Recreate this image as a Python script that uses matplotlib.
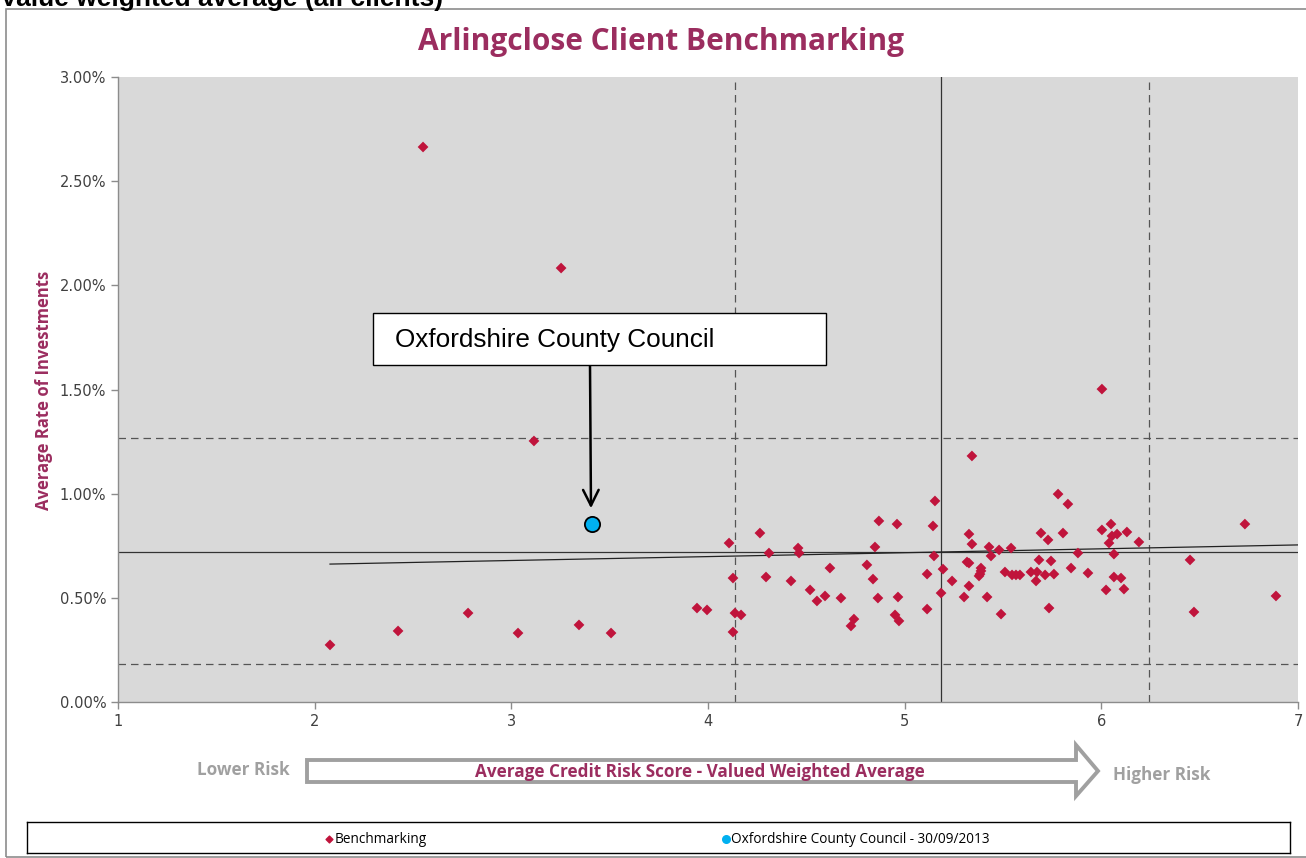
import matplotlib
matplotlib.use("Agg")
import matplotlib.pyplot as plt
from matplotlib.patches import Rectangle, Polygon
from matplotlib.ticker import FuncFormatter
import numpy as np

# ---------------- data ----------------
bench_x = [2.551, 3.253, 3.115, 2.078, 2.424, 2.780, 3.034, 3.344, 3.507, 3.944,
           3.995, 4.107, 4.127, 4.137, 4.168, 4.127, 4.264, 4.295, 4.310, 4.422,
           4.458, 4.463, 4.519, 4.554, 4.595, 4.620, 4.676, 4.727, 4.742, 4.808,
           4.839, 4.849, 4.864, 4.869, 4.951, 4.961, 4.966, 4.971, 5.114, 5.114,
           5.144, 5.149, 5.154, 5.185, 5.195, 5.241, 5.302, 5.317, 5.327, 5.327,
           5.327, 5.342, 5.342, 5.378, 5.383, 5.388, 5.388, 5.419, 5.429, 5.439,
           5.480, 5.490, 5.510, 5.541, 5.546, 5.566, 5.586, 5.642, 5.668, 5.673,
           5.683, 5.693, 5.714, 5.729, 5.734, 5.744, 5.759, 5.780, 5.805, 5.830,
           5.846, 5.881, 5.932, 6.003, 6.003, 6.024, 6.039, 6.049, 6.054, 6.064,
           6.064, 6.080, 6.100, 6.115, 6.130, 6.191, 6.451, 6.471, 6.730, 6.888]
bench_y = [2.664, 2.083, 1.253, 0.274, 0.341, 0.427, 0.331, 0.370, 0.331, 0.451,
           0.442, 0.763, 0.595, 0.427, 0.418, 0.336, 0.811, 0.600, 0.715, 0.581,
           0.739, 0.715, 0.538, 0.485, 0.509, 0.643, 0.499, 0.365, 0.398, 0.658,
           0.590, 0.744, 0.499, 0.869, 0.418, 0.854, 0.504, 0.389, 0.614, 0.446,
           0.845, 0.701, 0.965, 0.523, 0.638, 0.581, 0.504, 0.672, 0.667, 0.806,
           0.557, 1.181, 0.758, 0.605, 0.614, 0.629, 0.643, 0.504, 0.744, 0.701,
           0.730, 0.422, 0.624, 0.739, 0.610, 0.610, 0.610, 0.624, 0.581, 0.624,
           0.682, 0.811, 0.610, 0.778, 0.451, 0.677, 0.614, 0.998, 0.811, 0.950,
           0.643, 0.715, 0.619, 1.502, 0.826, 0.538, 0.763, 0.854, 0.797, 0.710,
           0.600, 0.806, 0.595, 0.542, 0.816, 0.768, 0.682, 0.432, 0.854, 0.509]

oxford_x = [3.41]
oxford_y = [0.854]

mean_x = 5.185
mean_y = 0.720
band_x = [4.137, 6.242]
band_y = [0.182, 1.267]

trend_x = [2.078, 7.0]
trend_y = [0.662, 0.754]

x_ticks = [1, 2, 3, 4, 5, 6, 7]
y_ticks = [0.0, 0.5, 1.0, 1.5, 2.0, 2.5, 3.0]

title = "Arlingclose Client Benchmarking"
heading = "Value weighted average (all clients)"
y_label = "Average Rate of Investments"
x_label = "Average Credit Risk Score - Valued Weighted Average"
legend_labels = ["Benchmarking", "Oxfordshire County Council - 30/09/2013"]
annot_text = "Oxfordshire County Council"

PURPLE = "#9B2D5F"
RED = "#C0143C"
BLUE = "#00B0F0"
GREY = "#A0A0A0"

W, H = 1306, 858
fig = plt.figure(figsize=(W / 100, H / 100), dpi=100)
fig.patch.set_facecolor("white")

def fx(px):
    return px / W

def fy(py):
    return 1 - py / H

# outer frame
fig.add_artist(Rectangle((fx(6), fy(857)), fx(1310) - fx(6), fy(9) - fy(857),
                         transform=fig.transFigure, fill=False,
                         edgecolor="#8c8c8c", lw=1.2))
fig.text(fx(0), fy(6), heading, fontsize=19, fontweight="bold",
         family="Liberation Sans", ha="left", va="baseline", color="black")

ax = fig.add_axes([fx(118), fy(702), fx(1298) - fx(118), fy(77) - fy(702)])
ax.set_facecolor("#D9D9D9")
ax.set_xlim(1, 7)
ax.set_ylim(0, 3.0)
ax.set_xticks(x_ticks)
ax.set_yticks(y_ticks)
ax.yaxis.set_major_formatter(FuncFormatter(lambda v, p: f"{v:.2f}%"))
for s in ["top", "right"]:
    ax.spines[s].set_visible(False)
for s in ["left", "bottom"]:
    ax.spines[s].set_color("#8c8c8c")
    ax.spines[s].set_linewidth(1.0)
ax.tick_params(axis="both", colors="#8c8c8c", labelcolor="#404040",
               labelsize=10.5, length=5, width=1)
ax.tick_params(axis="x", pad=4)
for lbl in ax.get_xticklabels() + ax.get_yticklabels():
    lbl.set_family("DejaVu Sans")

# reference lines
ax.axvline(mean_x, color="#333333", lw=0.9, zorder=1)
ax.axhline(mean_y, color="#333333", lw=0.9, zorder=1)
for bx in band_x:
    ax.axvline(bx, color="#555555", lw=0.9, ls=(0, (6, 4)), zorder=1)
for by in band_y:
    ax.axhline(by, color="#555555", lw=0.9, ls=(0, (6, 4)), zorder=1)
ax.plot(trend_x, trend_y, color="#222222", lw=0.9, zorder=1, clip_on=True)

ax.scatter(bench_x, bench_y, marker="D", s=30, color=RED, edgecolors="none",
           zorder=3)
ax.scatter(oxford_x, oxford_y, marker="o", s=120, color=BLUE,
           edgecolors="black", linewidths=1.3, zorder=4)

# annotation box + arrow
fig.add_artist(Rectangle((fx(373), fy(365)), fx(826) - fx(373), fy(313) - fy(365),
                         transform=fig.transFigure, facecolor="white",
                         edgecolor="black", lw=1.0, zorder=5))
fig.text(fx(395), fy(340), annot_text, fontsize=18.8, family="Liberation Sans",
         ha="left", va="center", color="black", zorder=6)
ax.annotate("", xy=(oxford_x[0] - 0.005, 0.93), xycoords="data",
            xytext=(fx(590), fy(365)), textcoords="figure fraction",
            arrowprops=dict(arrowstyle="->", color="black", lw=1.8,
                            mutation_scale=28, shrinkA=0, shrinkB=0),
            zorder=6)

fig.text(fx(661), fy(42), title, fontsize=21.5, fontweight="bold",
         color=PURPLE, family="Open Sans", ha="center", va="center")
fig.text(fx(44), fy(390), y_label, fontsize=12, fontweight="bold",
         color=PURPLE, family="Open Sans", rotation=90, ha="center", va="center")

# big hollow arrow
arrow_pts = [(307, 760), (1076, 760), (1076, 745), (1098, 771), (1076, 796),
             (1076, 782), (307, 782)]
fig.add_artist(Polygon([(fx(a), fy(b)) for a, b in arrow_pts], closed=True,
                       transform=fig.transFigure, facecolor="white",
                       edgecolor=GREY, lw=2.8, joinstyle="miter"))
fig.text(fx(700), fy(772), x_label, fontsize=12.3, fontweight="bold",
         color=PURPLE, family="Open Sans", ha="center", va="center")
fig.text(fx(243), fy(770), "Lower Risk", fontsize=12.3, fontweight="bold",
         color=GREY, family="Open Sans", ha="center", va="center")
fig.text(fx(1162), fy(775), "Higher Risk", fontsize=12.3, fontweight="bold",
         color=GREY, family="Open Sans", ha="center", va="center")

# legend box
lax = fig.add_axes([fx(27), fy(853), fx(1290) - fx(27), fy(822) - fy(853)])
lax.set_xlim(27, 1290)
lax.set_ylim(0, 1)
lax.set_facecolor("white")
lax.set_xticks([])
lax.set_yticks([])
for s in lax.spines.values():
    s.set_color("black")
    s.set_linewidth(1.0)
lax.scatter([329], [0.45], marker="D", s=12, color=RED)
lax.text(335, 0.45, legend_labels[0], fontsize=9.8, family="Open Sans",
         va="center", ha="left", color="black")
lax.scatter([726], [0.45], marker="o", s=30, color=BLUE)
lax.text(731, 0.45, legend_labels[1], fontsize=9.8, family="Open Sans",
         va="center", ha="left", color="black")

fig.savefig("out.png", dpi=100)
